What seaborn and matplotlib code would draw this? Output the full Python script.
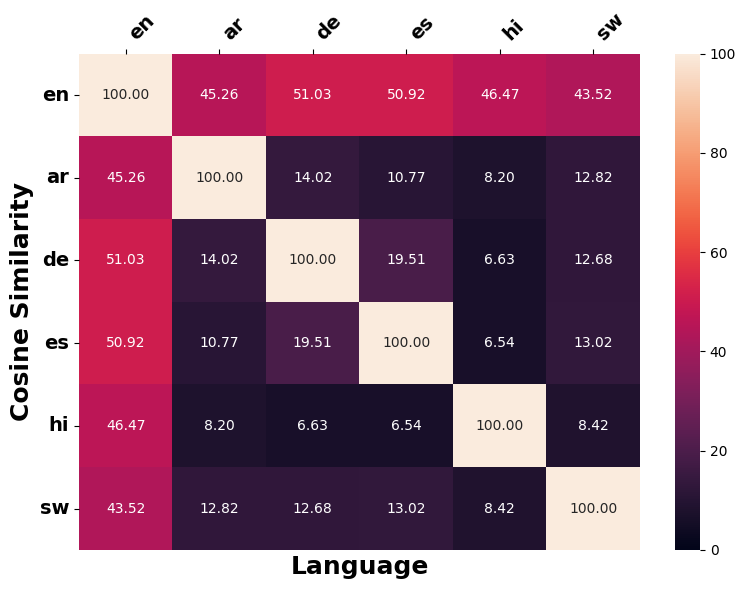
import numpy as np
import pandas as pd
import matplotlib.pyplot as plt
import seaborn as sns

# Lingue e matrice di similarita'
languages = ['en', 'ar', 'de', 'es', 'hi', 'sw']
row_en = [100.00, 45.26, 51.03, 50.92, 46.47, 43.52]
row_ar = [45.26, 100.00, 14.02, 10.77, 8.20, 12.82]
row_de = [51.03, 14.02, 100.00, 19.51, 6.63, 12.68]
row_es = [50.92, 10.77, 19.51, 100.00, 6.54, 13.02]
row_hi = [46.47, 8.20, 6.63, 6.54, 100.00, 8.42]
row_sw = [43.52, 12.82, 12.68, 13.02, 8.42, 100.00]

sim = pd.DataFrame([row_en, row_ar, row_de, row_es, row_hi, row_sw],
                   index=languages, columns=languages)

fig = plt.figure(figsize=(7.45, 5.9), dpi=100)
ax = fig.add_axes([0.106, 0.068, 0.753, 0.841])
cax = fig.add_axes([0.906, 0.068, 0.0336, 0.841])
sns.heatmap(sim, annot=True, fmt='.2f', cmap='rocket', vmin=0, vmax=100,
            ax=ax, cbar_ax=cax)

ax.xaxis.tick_top()
ax.set_xticklabels(languages, rotation=45, ha='left', fontsize=14, fontweight='bold')
ax.set_yticklabels(languages, rotation=0, fontsize=14, fontweight='bold')
ax.set_xlabel('Language', fontsize=18, fontweight='bold')
ax.xaxis.set_label_position('bottom')
ax.set_ylabel('Cosine Similarity', fontsize=18, fontweight='bold')

plt.savefig('out.png', dpi=100)
